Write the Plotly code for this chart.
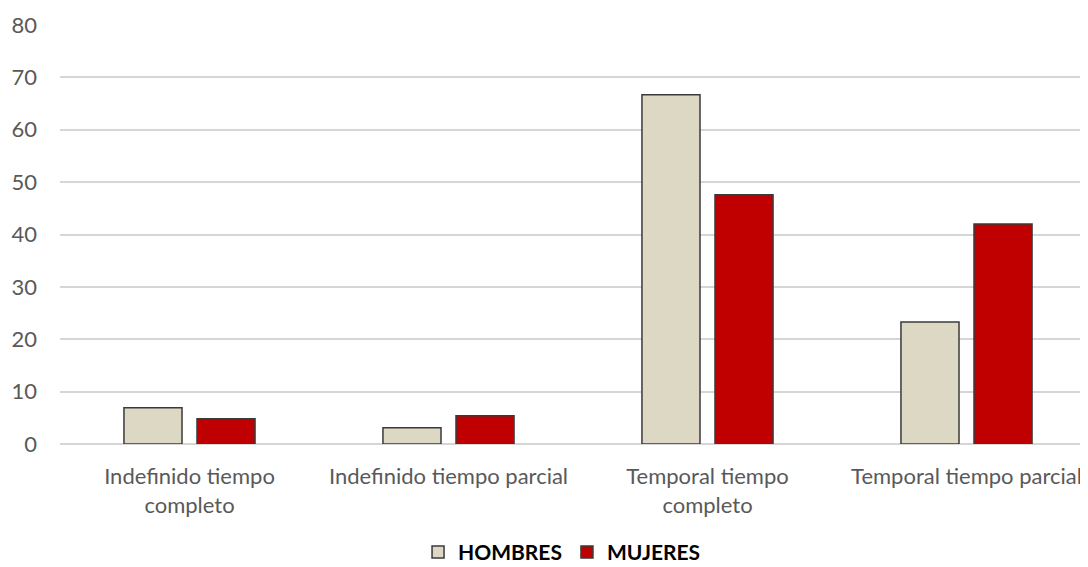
import plotly.graph_objects as go

categories = ["Indefinido tiempo<br>completo", "Indefinido tiempo parcial",
              "Temporal tiempo<br>completo", "Temporal tiempo parcial"]
hombres = [6.9, 3.1, 66.7, 23.3]
mujeres = [4.8, 5.4, 47.6, 42.0]
y_ticks = [0, 10, 20, 30, 40, 50, 60, 70, 80]

fig = go.Figure()
fig.add_trace(go.Bar(x=categories, y=hombres, name="HOMBRES",
                     marker=dict(color="#ddd8c4", line=dict(color="#3a3a3a", width=1.5))))
fig.add_trace(go.Bar(x=categories, y=mujeres, name="MUJERES",
                     marker=dict(color="#c00000", line=dict(color="#3a3a3a", width=1.5))))

fig.update_layout(
    width=1088, height=567,
    margin=dict(l=52, r=0, t=17, b=131),
    paper_bgcolor="white", plot_bgcolor="white",
    barmode="group", bargap=0.436, bargroupgap=0.205,
    font=dict(family="Lato, 'Open Sans', sans-serif", size=22, color="#595959"),
    showlegend=True,
    legend=dict(orientation="h", x=0.4846, xanchor="center",
                yref="container", y=0.04, yanchor="middle",
                font=dict(size=21, color="black", family="Lato, sans-serif", weight="bold"),
                traceorder="normal"),
    xaxis=dict(range=[-0.5, 3.5], showgrid=False, showline=False, ticks="",
               automargin=False, ticklabelstandoff=17,
               tickfont=dict(size=22, color="#595959")),
    yaxis=dict(range=[0, 80], tickvals=y_ticks, showgrid=True, gridcolor="#d6d6d6",
               gridwidth=1.5, zeroline=True, zerolinecolor="#d6d6d6", zerolinewidth=1.5,
               showline=False, ticks="", ticklabelstandoff=22, automargin=False,
               tickfont=dict(size=22, color="#595959")),
)

fig.write_html("out.html")
